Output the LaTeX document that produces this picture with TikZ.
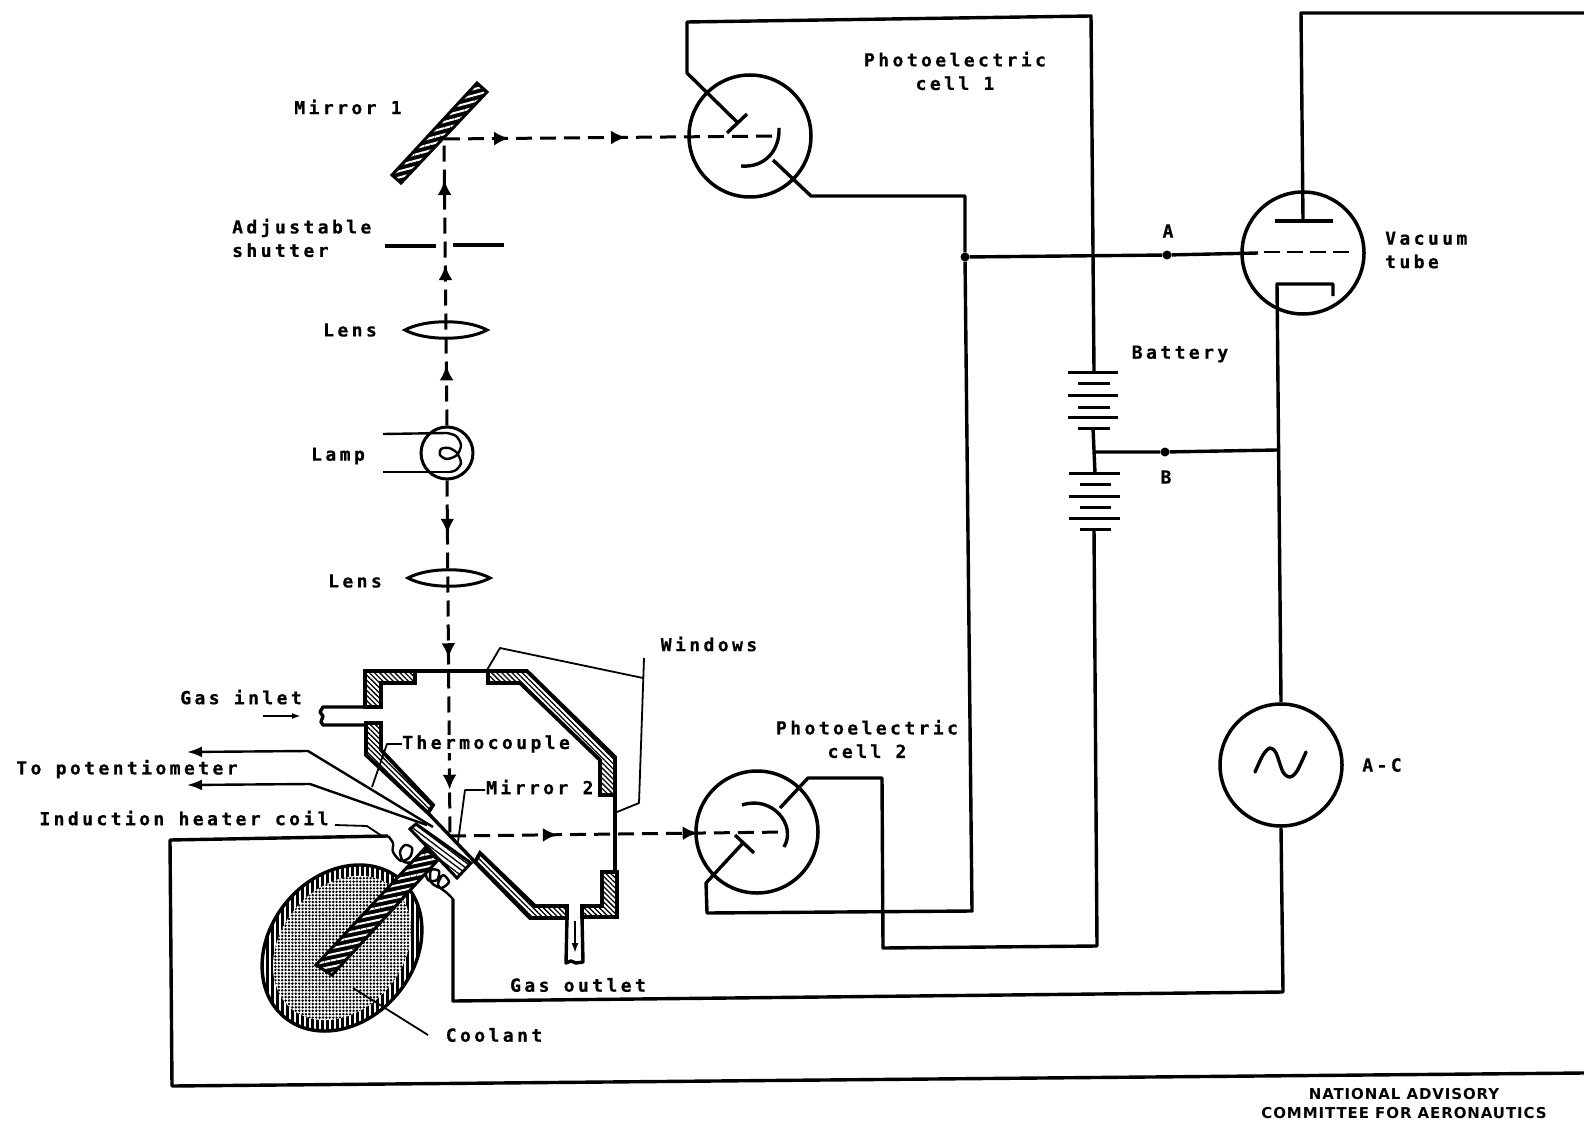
\documentclass[tikz,border=0pt]{standalone}
\usepackage{fontspec}
\usepackage{amsmath}
\usetikzlibrary{arrows.meta,patterns.meta,shapes.geometric,decorations.markings}
\newfontfamily\leroy[LetterSpace=19,BoldFont={DejaVu Sans Mono Bold},BoldFeatures={FakeBold=0.6}]{DejaVu Sans Mono}
\newfontfamily\leroyfoot[LetterSpace=6]{DejaVu Sans}
\tikzset{
	wire/.style={line width=3.4pt, line join=round},
	thin wire/.style={line width=1.8pt, line join=round},
	tubebody/.style={draw, circle, line width=3.5pt, minimum size=122pt, inner sep=0pt},
	dot/.style={fill, circle, minimum size=9pt, inner sep=0pt},
	lbl/.style={font=\leroy\bfseries\fontsize{18}{23.5}\selectfont, inner sep=0pt},
	footlbl/.style={font=\leroyfoot\bfseries\fontsize{15}{19}\selectfont, inner sep=0pt, align=center},
	ray/.style={line width=3pt, dash pattern=on 16pt off 8pt},
	ray tip/.style={postaction={decorate, decoration={markings,
		mark=at position #1 with {\arrow{Latex[length=15pt,width=14pt]}}}}},
	wall/.style={draw, line width=3.8pt, line join=miter,
		pattern={Lines[angle=-45,distance=3.6pt,line width=1.3pt]}},
	whitehatch/.style={draw, line width=3pt, preaction={fill=black},
		pattern={Lines[angle=#1,distance=6pt,line width=2pt]}, pattern color=white},
	lens/.style={line width=3pt},
	plate/.style={line width=3pt},
}
\begin{document}
\begin{tikzpicture}[x=1pt, y=-1pt]
	\useasboundingbox (0,0) rectangle (1584,1123);

	\node[tubebody] (cellOne) at (750,136) {};
	\node[tubebody] (cellTwo) at (757,832) {};
	\node[tubebody] (tube) at (1303,253) {};
	\node[tubebody] (acSource) at (1281,765) {};
	\node[dot] (junc) at (965,257) {};
	\node[dot] (ptA) at (1167,255) {};
	\node[dot] (ptB) at (1165,452) {};
	\coordinate (topAnode) at (738,123);
	\coordinate (batTop) at (1094,372);
	\coordinate (batMid) at (1093,452);
	\coordinate (batLow) at (1094,529);
	\coordinate (gridIn) at (1258,253);
	\coordinate (plateA) at (1303,221);
	\coordinate (cathB) at (1277,450);
	\coordinate (coilIn) at (388,836);
	\coordinate (coilOut) at (453,899);
	\coordinate (mirrorFoot) at (444,139);
	\coordinate (mirrorTwoFoot) at (450,836);

	% photoelectric cell 1
	\draw[wire] (topAnode) -- (687,73) -- (687,22) -- (1091,16) -- (batTop);
	\draw[wire] (727,133) -- (747,114);
	\draw[wire] (779,128) .. controls (780,150) and (765,168) .. (741,166);
	\draw[wire] (773,160) -- (811,196) -- (965,196) -- (junc) -- (972,911) -- (707,913) -- (706,883) -- (743,843);

	% photoelectric cell 2
	\draw[wire] (735,835) -- (754,853);
	\draw[wire] (742,805) .. controls (772,795) and (797,825) .. (784,847);
	\draw[wire] (780,808) -- (808,778) -- (882,778) -- (883,948) -- (1097,946) -- (batLow);

	% vacuum tube
	\draw[wire] (junc) -- (ptA) -- (gridIn);
	\draw[line width=2.6pt, dash pattern=on 16pt off 7pt] (1264,252) -- (1356,252);
	\draw[wire] (1275,221) -- (1333,221);
	\draw[wire] (plateA) -- (1301,13) -- (1584,13);
	\draw[wire] (1333,296) -- (1333,284) -- (1277,284) -- (acSource.north);

	% battery
	\draw[plate] (1068,372) -- (1118,372);
	\draw[plate] (1078,383) -- (1110,383);
	\draw[plate] (1068,395) -- (1118,395);
	\draw[plate] (1078,407) -- (1110,407);
	\draw[plate] (1068,417) -- (1118,417);
	\draw[plate] (1078,428) -- (1110,428);
	\draw[wire] (1093,428) -- (1095,473);
	\draw[plate] (1069,473) -- (1120,473);
	\draw[plate] (1080,484) -- (1111,484);
	\draw[plate] (1069,496) -- (1120,496);
	\draw[plate] (1080,507) -- (1111,507);
	\draw[plate] (1069,518) -- (1120,518);
	\draw[plate] (1080,529) -- (1111,529);
	\draw[wire] (batMid) -- (ptB) -- (cathB);

	% a-c source
	\draw[wire, line cap=round] plot[smooth] coordinates {(1255,772) (1263,755) (1270,748) (1276,753) (1283,772) (1290,777) (1297,771) (1306,752)};
	\draw[wire] (acSource.south) -- (1283,992) -- (453,1001) -- (coilOut);
	\draw[wire] (coilIn) -- (170,840) -- (172,1086) -- (1584,1073);

	% coil and flask
	\draw[thin wire, line width=2.4pt] plot[smooth] coordinates {(coilIn) (393,843) (393,852) (401,861) (410,857) (412,848) (405,845) (400,852) (404,862) (416,862)};
	\draw[thin wire, line width=2.4pt] plot[smooth] coordinates {(424,868) (428,880) (437,880) (439,871) (431,870) (431,882) (441,888) (449,882) (443,875) (438,885) (447,893) (coilOut)};
	\node[draw, ellipse, rotate=50, line width=3.4pt, minimum width=180pt, minimum height=144pt, inner sep=0pt,
		preaction={fill=black}, pattern={Lines[angle=90,distance=5pt,line width=1.1pt]}, pattern color=white] (flask) at (342,948) {};
	\node[ellipse, rotate=50, minimum width=158pt, minimum height=122pt, inner sep=0pt,
		preaction={fill=white}, pattern={Dots[distance=3.4pt,radius=1.35pt]}] (coolant) at (342,948) {};
	\draw[whitehatch=12] (425,848) -- (438,860) -- (332,975) -- (316,965) -- cycle;

	% chamber
	\draw[wall] (365,671) -- (415,671) -- (415,683) -- (381,683) -- (381,707) -- (365,707) -- cycle;
	\draw[wall] (366,723) -- (381,723) -- (381,750) -- (433,805) -- (428,813) -- (366,755) -- cycle;
	\draw[wall] (488,671) -- (527,671) -- (615,757) -- (615,795) -- (600,795) -- (600,760) -- (520,683) -- (488,683) -- cycle;
	\draw[wall] (602,872) -- (617,872) -- (617,917) -- (582,917) -- (582,906) -- (602,906) -- cycle;
	\draw[wall] (567,906) -- (567,918) -- (530,918) -- (475,862) -- (480,853) -- (535,906) -- cycle;
	\draw[wire] (415,671) -- (488,671);
	\draw[wire] (615,795) -- (615,872);
	\draw[wire] (365,707) -- (323,707) -- (320,712) -- (323,716) -- (321,722) -- (323,725) -- (366,725);
	\draw[wire] (567,918) -- (566,963) -- (571,961) -- (576,963) -- (583,962) -- (582,917);
	\draw[thin wire, -{Latex[length=10pt,width=7pt]}] (575,921) -- (575,953);
	\draw[thin wire, -{Latex[length=9pt,width=6pt]}] (263,716) -- (301,716);
	\draw[wire] (428,813) -- (475,862);
	\draw[wall, line width=3pt, pattern={Lines[angle=-37,distance=4.4pt,line width=1.3pt]}] (410,829) -- (416,824) -- (471,863) -- (457,878) -- cycle;

	% thermocouple leads
	\draw[wire, line width=2.4pt, -{Latex[length=15pt,width=11pt]}] (433,827) -- (308,751) -- (187,752);
	\draw[wire, line width=2.4pt, -{Latex[length=15pt,width=11pt]}] (427,825) -- (310,784) -- (187,785);

	% mirror and optics
	\draw[whitehatch=15] (477,83) -- (487,92) -- (401,183) -- (392,175) -- cycle;
	\draw[wire] (385,246) -- (436,246);
	\draw[wire] (453,245) -- (504,245);
	\draw[lens] (405,330) .. controls (425,319) and (467,319) .. (487,330) .. controls (467,341) and (425,341) .. (405,330) -- cycle;
	\draw[lens] (408,578) .. controls (428,567) and (470,567) .. (490,578) .. controls (470,589) and (428,589) .. (408,578) -- cycle;

	% lamp
	\node[draw, circle, line width=3pt, minimum size=52pt, inner sep=0pt] (lamp) at (447,453) {};
	\draw[wire, line width=2.4pt] (383,434) -- (447,433);
	\draw[wire, line width=2.4pt] (383,472) -- (450,472);
	\draw[wire, line width=2.4pt] plot[smooth] coordinates {(447,433) (456,436) (461,445) (457,455) (447,459) (440,455) (441,449) (449,448) (457,453) (461,463) (456,470) (450,472)};

	% light path
	\draw[ray, ray tip=0.21, ray tip=0.56, ray tip=0.857] (lamp.north) -- (mirrorFoot);
	\draw[ray, ray tip=0.195, ray tip=0.545] (mirrorFoot) -- (778,136);
	\draw[ray, ray tip=0.15, ray tip=0.50, ray tip=0.87] (lamp.south) -- (mirrorTwoFoot);
	\draw[ray, ray tip=0.32, ray tip=0.735] (mirrorTwoFoot) -- (787,832);

	% leaders
	\draw[thin wire] (487,670) -- (500,648) -- (643,678);
	\draw[thin wire] (644,658) -- (639,803) -- (617,812);
	\draw[thin wire] (402,744) -- (387,744) -- (372,787);
	\draw[thin wire] (485,790) -- (465,790) -- (458,842);
	\draw[thin wire] (353,988) -- (428,1035);
	\draw[thin wire] (335,825) -- (367,826) -- (382,836);

	% labels
	\node[lbl, align=center] (cellOneLbl) at (955,71) {Photoelectric\\cell 1};
	\node[lbl, align=center] (cellTwoLbl) at (867,739) {Photoelectric\\cell 2};
	\node[lbl] (mirrorOneLbl) at (348,107) {Mirror 1};
	\node[lbl, anchor=west, align=left] (shutterLbl) at (232,238) {Adjustable\\shutter};
	\node[lbl] (lensOneLbl) at (350,330) {Lens};
	\node[lbl] (lampLbl) at (338,456) {Lamp};
	\node[lbl] (lensTwoLbl) at (355,581) {Lens};
	\node[lbl] (windowsLbl) at (709,644) {Windows};
	\node[lbl] (inletLbl) at (241,697) {Gas inlet};
	\node[lbl] (potLbl) at (127,769) {To potentiometer};
	\node[lbl] (coilLbl) at (184,818) {Induction heater coil};
	\node[lbl, anchor=west, fill=white] (thermoLbl) at (402,744) {Thermocouple};
	\node[lbl, anchor=west, fill=white] (mirrorTwoLbl) at (486,787) {Mirror 2};
	\node[lbl] (outletLbl) at (578,985) {Gas outlet};
	\node[lbl] (coolantLbl) at (494,1035) {Coolant};
	\node[lbl] (acLbl) at (1382,765) {A-C};
	\node[lbl, anchor=west, align=left] (tubeLbl) at (1385,250) {Vacuum\\tube};
	\node[lbl] (batteryLbl) at (1180,354) {Battery};
	\node[lbl] (aLbl) at (1168,231) {A};
	\node[lbl] (bLbl) at (1166,477) {B};
	\node[footlbl] (nacaLbl) at (1404,1104) {NATIONAL ADVISORY\\COMMITTEE FOR AERONAUTICS};
\end{tikzpicture}
\end{document}
